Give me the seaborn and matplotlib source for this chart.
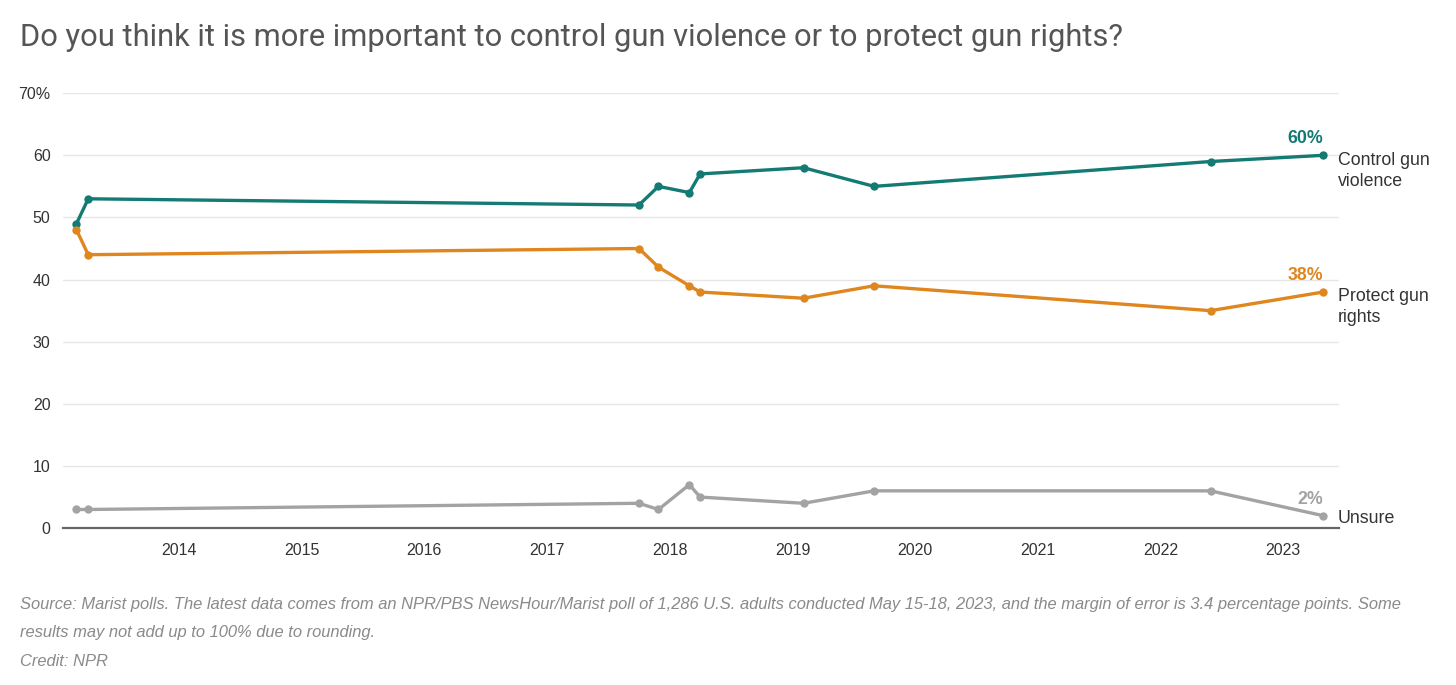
import matplotlib
matplotlib.use("Agg")
import matplotlib.pyplot as plt
import matplotlib.dates as mdates
import pandas as pd
import seaborn as sns

# poll dates
POLL_DATES = [
    "2013-03-01", "2013-04-05", "2017-10-01", "2017-11-28", "2018-02-28",
    "2018-04-01", "2019-02-03", "2019-09-01", "2022-05-30", "2023-05-01",
]
CONTROL = [49, 53, 52, 55, 54, 57, 58, 55, 59, 60]
PROTECT = [48, 44, 45, 42, 39, 38, 37, 39, 35, 38]
UNSURE = [3, 3, 4, 3, 7, 5, 4, 6, 6, 2]

SERIES = ["Control gun\nviolence", "Protect gun\nrights", "Unsure"]
COLORS = ["#137a74", "#e0861f", "#a3a3a3"]
Y_TICKS = [0, 10, 20, 30, 40, 50, 60, 70]
Y_LABELS = ["0", "10", "20", "30", "40", "50", "60", "70%"]

TITLE = "Do you think it is more important to control gun violence or to protect gun rights?"
SOURCE = ("Source: Marist polls. The latest data comes from an NPR/PBS NewsHour/Marist poll of 1,286 U.S. "
          "adults conducted May 15-18, 2023, and the margin of error is 3.4 percentage points. Some")
SOURCE2 = "results may not add up to 100% due to rounding."
CREDIT = "Credit: NPR"

sns.set_theme(style="white")
plt.rcParams["font.family"] = ["Liberation Sans", "DejaVu Sans"]

dates = pd.to_datetime(POLL_DATES)
df = pd.DataFrame({"date": dates, SERIES[0]: CONTROL, SERIES[1]: PROTECT, SERIES[2]: UNSURE})
long = df.melt(id_vars="date", var_name="series", value_name="pct")

fig = plt.figure(figsize=(14.56, 6.85), dpi=100)
ax = fig.add_axes([0.0433, 0.229, 0.876, 0.635])

for name, color in zip(SERIES, COLORS):
    sub = long[long["series"] == name]
    sns.lineplot(data=sub, x="date", y="pct", ax=ax, color=color, linewidth=2.4,
                 marker="o", markersize=6, markeredgewidth=0, clip_on=False, zorder=3)

ax.set_ylim(0, 70)
ax.set_xlim(pd.Timestamp("2013-01-20"), pd.Timestamp("2023-06-15"))
ax.set_yticks(Y_TICKS)
ax.set_yticklabels(Y_LABELS)
ax.xaxis.set_major_formatter(mdates.DateFormatter("%Y"))
ax.set_xticks([pd.Timestamp(f"{y}-01-01") for y in range(2014, 2024)])
ax.set_xlabel("")
ax.set_ylabel("")

ax.grid(axis="y", color="#e6e6e6", linewidth=1)
ax.grid(axis="x", visible=False)
for side in ["top", "right", "left"]:
    ax.spines[side].set_visible(False)
ax.spines["bottom"].set_color("#666666")
ax.spines["bottom"].set_linewidth(1.6)
ax.spines["bottom"].set_zorder(2)
ax.tick_params(axis="y", length=7, width=1, color="#cccccc", labelsize=11.5, labelcolor="#333333", pad=2)
ax.tick_params(axis="x", length=0, labelsize=11.5, labelcolor="#333333", pad=11)

# end labels
last = dates[-1]
vals = [CONTROL[-1], PROTECT[-1], UNSURE[-1]]
for name, color, v in zip(SERIES, COLORS, vals):
    ax.annotate(name, xy=(last, v), xytext=(10.5, -2 if "\n" not in name else -11),
                textcoords="offset points", ha="left", va="center", fontsize=12.8,
                color="#333333", linespacing=1.3)
    ax.annotate(f"{v}%", xy=(last, v), xytext=(0, 12), textcoords="offset points",
                ha="right", va="center", fontsize=12.8, fontweight="bold", color=color)

fig.text(20 / 1456, 1 - 38 / 685, TITLE, fontsize=22.2, color="#555555", va="center",
         family=["Roboto", "DejaVu Sans"])
foot = dict(fontsize=11.9, color="#8a8a8a", style="italic", va="center")
fig.text(20 / 1456, 1 - 605 / 685, SOURCE, **foot)
fig.text(20 / 1456, 1 - 633 / 685, SOURCE2, **foot)
fig.text(20 / 1456, 1 - 661 / 685, CREDIT, **foot)

fig.savefig("out.png", dpi=100, facecolor="white")
